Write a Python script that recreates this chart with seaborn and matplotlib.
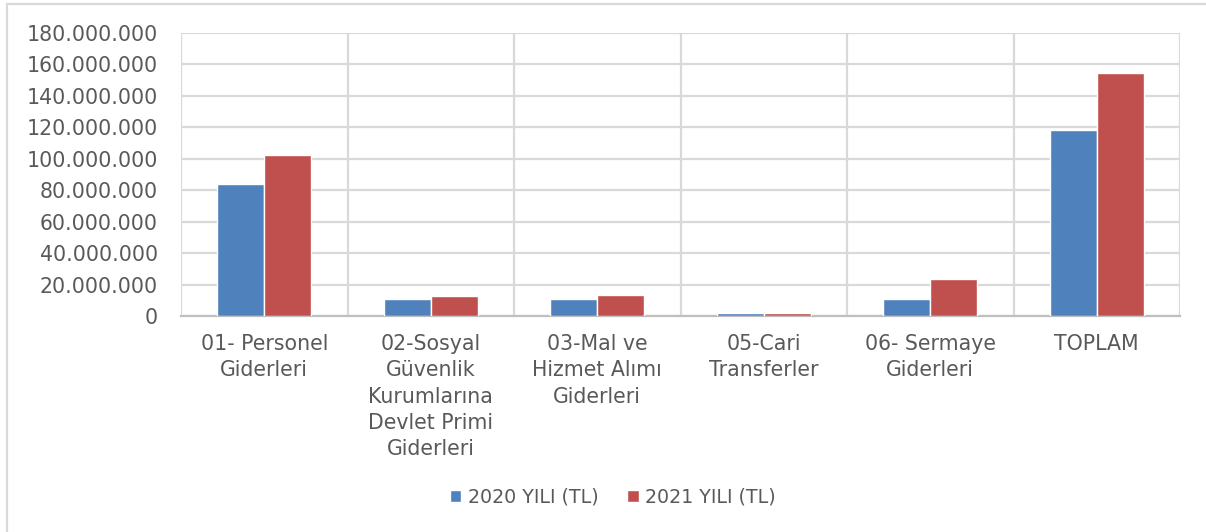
import numpy as np
import pandas as pd
import matplotlib
matplotlib.use('Agg')
import matplotlib.pyplot as plt
from matplotlib import patches
from matplotlib.ticker import FuncFormatter, FixedLocator
import seaborn as sns

categories = ['01- Personel\nGiderleri',
              '02-Sosyal\nGüvenlik\nKurumlarına\nDevlet Primi\nGiderleri',
              '03-Mal ve\nHizmet Alımı\nGiderleri',
              '05-Cari\nTransferler',
              '06- Sermaye\nGiderleri',
              'TOPLAM']
series_names = ['2020 YILI (TL)', '2021 YILI (TL)']
values_2020 = [84_000_000, 10_600_000, 10_800_000, 1_700_000, 11_000_000, 118_500_000]
values_2021 = [102_200_000, 12_500_000, 13_400_000, 2_100_000, 23_500_000, 154_300_000]

bar_colors = ['#4F81BD', '#C0504D']
text_color = '#595959'
grid_color = '#D9D9D9'

df = pd.DataFrame({
    'kategori': categories * 2,
    'seri': [series_names[0]] * len(categories) + [series_names[1]] * len(categories),
    'deger': values_2020 + values_2021,
})

sns.set_style('white')
plt.rcParams['font.family'] = ['DejaVu Sans']

W, H = 1206, 532
fig = plt.figure(figsize=(W / 100, H / 100), dpi=100)
ax = fig.add_axes([181 / W, 1 - 316 / H, (1180 - 181) / W, (316 - 33) / H])

sns.barplot(data=df, x='kategori', y='deger', hue='seri', palette=bar_colors,
            order=categories, hue_order=series_names, width=0.565,
            saturation=1, ax=ax, legend=True, zorder=3)

ax.set_xlim(-0.5, len(categories) - 0.5)
ax.set_ylim(0, 180_000_000)
ax.set_yticks(np.arange(0, 180_000_001, 20_000_000))
ax.yaxis.set_major_formatter(FuncFormatter(lambda v, p: f'{int(v):,}'.replace(',', '.')))
ax.xaxis.set_minor_locator(FixedLocator(np.arange(-0.5, len(categories), 1.0)))

ax.grid(axis='y', which='major', color=grid_color, linewidth=1.6, zorder=0)
ax.grid(axis='x', which='minor', color=grid_color, linewidth=1.6, zorder=0)
ax.grid(axis='x', which='major', visible=False)
for s in ['top', 'right', 'left']:
    ax.spines[s].set_visible(False)
ax.spines['bottom'].set_color('#BFBFBF')
ax.spines['bottom'].set_linewidth(1.6)

ax.tick_params(axis='both', which='both', length=0, colors=text_color)
ax.tick_params(axis='y', labelsize=14.8, pad=16.5)
ax.tick_params(axis='x', labelsize=14.8, pad=13)
for lbl in ax.get_xticklabels():
    lbl.set_linespacing(1.39)
ax.set_xlabel('')
ax.set_ylabel('')

ax.legend(loc='center', bbox_to_anchor=(613 / W, 1 - 497 / H),
          bbox_transform=fig.transFigure, ncol=2, frameon=False,
          fontsize=13.7, labelcolor=text_color, handlelength=0.6,
          handleheight=0.6, handletextpad=0.35, columnspacing=1.5)

# outer chart border
fig.patches.append(patches.Rectangle((7 / W, -0.05), 1.2, 1 - 4 / H + 0.05,
                                     transform=fig.transFigure, fill=False,
                                     edgecolor=grid_color, linewidth=1.6))

fig.savefig('out.png', dpi=100)
